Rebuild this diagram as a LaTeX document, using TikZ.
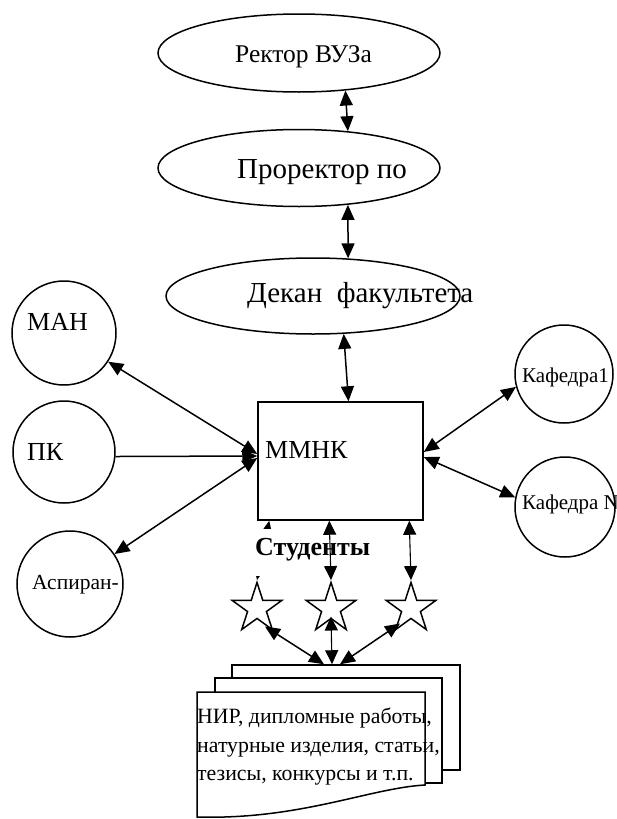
\documentclass[tikz,border=0pt]{standalone}
\usepackage{fontspec}
\setmainfont{Liberation Serif}
\usetikzlibrary{arrows.meta,shapes.geometric,calc}
\begin{document}
\begin{tikzpicture}[x=1pt,y=-1pt,
  lw/.style={line width=1.5pt},
  ell/.style={draw,lw,ellipse,inner sep=0pt},
  circ/.style={draw,lw,circle,inner sep=0pt},
  txt/.style={inner sep=0pt,anchor=base west},
  starnode/.style={draw,lw,star,star points=5,star point ratio=2.618,minimum size=52pt,inner sep=0pt},
  page/.style={draw,lw,fill=white,inner sep=0pt},
  darr/.style={lw,{Triangle[length=15pt,width=13pt]}-{Triangle[length=15pt,width=13pt]}},
  sarr/.style={lw,-{Triangle[length=15pt,width=13pt]}},
  thin arr/.style={line width=1.1pt,{Triangle[length=14pt,width=13pt]}-{Triangle[length=14pt,width=13pt]}}
]
\useasboundingbox (0,0) rectangle (617,819);

% top ellipses
\node[ell,minimum width=282pt,minimum height=78pt] (rector) at (299,53) {};
\node[txt,font=\fontsize{25.5}{30}\selectfont] (rectort) at (235,62) {Ректор ВУЗа};
\node[ell,minimum width=282pt,minimum height=77pt] (prorector) at (299,168) {};
\node[txt,font=\fontsize{29}{34}\selectfont] (prorectort) at (237,178) {Проректор по};
\node[ell,minimum width=294pt,minimum height=76pt] (dekan) at (313,296) {};
\node[txt,font=\fontsize{29}{34}\selectfont] (dekant) at (247,302) {Декан\ \ факультета};

% central box
\node[draw,lw,inner sep=0pt,minimum width=165pt,minimum height=118pt] (mmnk) at (340.5,461) {};
\node[txt,font=\fontsize{26}{30}\selectfont] (mmnkt) at (265,458) {ММНК};

% left circles
\node[circ,minimum size=104pt] (man) at (64,333) {};
\node[txt,font=\fontsize{26}{30}\selectfont] (mant) at (27,330) {МАН};
\node[circ,minimum size=102pt] (pk) at (64,452) {};
\node[txt,font=\fontsize{26}{30}\selectfont] (pkt) at (27,460) {ПК};
\node[circ,minimum size=106pt] (asp) at (70,584) {};
\node[txt,font=\fontsize{21.5}{25}\selectfont] (aspt) at (32,589) {Аспиран-};

% right circles
\node[circ,minimum size=98pt] (kaf1) at (564,374) {};
\node[txt,font=\fontsize{21}{25}\selectfont] (kaf1t) at (522,382) {Кафедра1};
\node[circ,minimum size=100pt] (kafn) at (565,507) {};
\node[txt,font=\fontsize{21}{25}\selectfont] (kafnt) at (522,509) {Кафедра N};

% stars
\node[starnode] (s1) at (257,608.5) {};
\node[starnode] (s2) at (331,608.5) {};
\node[starnode] (s3) at (411,608.5) {};

% documents
\node[page,minimum width=228pt,minimum height=105pt] (doc3) at (346,717.5) {};
\node[page,minimum width=227pt,minimum height=105pt] (doc2) at (328.5,730.5) {};
\draw[lw,fill=white] (197,692) -- (425,692) -- (425,785)
  .. controls (370,788) and (300,820) .. (197,817) -- cycle;
\node[txt,font=\fontsize{21.8}{25}\selectfont] (d1) at (197,723) {НИР, дипломные работы,};
\node[txt,font=\fontsize{21.8}{25}\selectfont] (d2) at (197,752) {натурные изделия, статьи,};
\node[txt,font=\fontsize{21.8}{25}\selectfont] (d3) at (197,780) {тезисы, конкурсы и т.п.};

% vertical chain
\draw[darr] (rector.-39) -- (prorector.37);
\draw[darr] (prorector.-37) -- (dekan.47);
\draw[darr] (dekan.-51) -- ([shift={(8,0)}]mmnk.north);

% left connectors
\draw[darr] (man.-33) -- ([shift={(0,-7)}]mmnk.west);
\draw[sarr] (pk.-5) -- ([shift={(0,-5)}]mmnk.west);
\draw[darr] (asp.34) -- ([shift={(0,-3)}]mmnk.west);

% right connectors
\draw[darr] ([shift={(0,-9)}]mmnk.east) -- (kaf1.195);
\draw[darr] ([shift={(0,-4)}]mmnk.east) -- (kafn.169);

% students
\draw[darr] ([shift={(12,0)}]mmnk.south west) -- (s1.north);
\node[fill=white,inner sep=0pt,minimum width=130pt,minimum height=47pt] (studbg) at (316,552) {};
\node[txt,font=\bfseries\fontsize{26}{30}\selectfont] (stud) at (255,555) {Студенты};
\draw[thin arr] ([shift={(72,0)}]mmnk.south west) -- (s2.north);
\draw[thin arr] ([shift={(152,0)}]mmnk.south west) -- (s3.north);

% stars to documents
\draw[darr] ([shift={(8,18)}]s1.center) -- ([shift={(-22,0)}]doc3.north);
\draw[thin arr] ([shift={(0,8)}]s2.center) -- ([shift={(-14,0)}]doc3.north);
\draw[darr] ([shift={(-11,15)}]s3.center) -- ([shift={(-6,0)}]doc3.north);
\end{tikzpicture}
\end{document}
